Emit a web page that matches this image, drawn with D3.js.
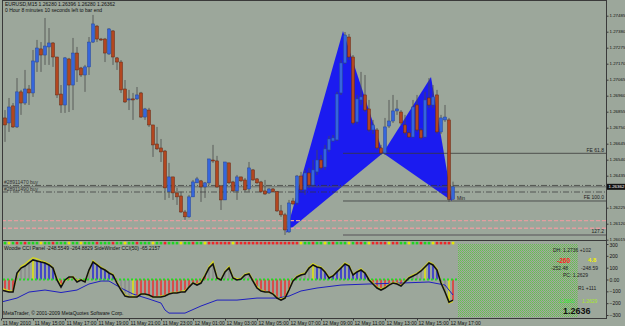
<!DOCTYPE html>
<html>
<head>
<meta charset="utf-8">
<script src="https://cdn.jsdelivr.net/npm/d3@7"></script>
<style>
  body { margin: 0; background: #9ca79b; }
  svg { display: block; }
</style>
</head>
<body>
<div id="chart"></div>
<script>
// EURUSD M15, 11 May 13:00 .. 12 May 17:15 (one value per bar)
const opens = [
  1.26788,1.26814,1.26781,1.26893,1.26755,1.26985,1.26912,1.27004,1.26978,1.27181,
  1.27267,1.27227,1.27280,1.27306,1.27214,1.26971,1.26899,1.27201,1.27030,1.27240,
  1.27142,1.27096,1.27149,1.27312,1.27417,1.27332,1.27332,1.27234,1.27385,1.27208,
  1.27181,1.27004,1.26932,1.26939,1.26939,1.26978,1.26820,1.26866,1.26768,1.26643,
  1.26617,1.26597,1.26330,1.26427,1.26322,1.26302,1.26197,1.26165,1.26296,1.26388,
  1.26401,1.26361,1.26388,1.26538,1.26532,1.26368,1.26276,1.26519,1.26394,1.26335,
  1.26427,1.26407,1.26348,1.26473,1.26414,1.26394,1.26335,1.26322,1.26348,1.26330,
  1.26204,1.26178,1.26066,1.26269,1.26256,1.26433,1.26342,1.26453,1.26374,1.26460,
  1.26538,1.26492,1.26604,1.26663,1.26670,1.26978,1.27175,1.27345,1.27214,1.26788,
  1.26932,1.26965,1.26873,1.26735,1.26735,1.26617,1.26584,1.26761,1.26794,1.26860,
  1.26853,1.26768,1.26716,1.26689,1.26899,1.26735,1.26689,1.26945,1.26899,1.26965,
  1.26722,1.26801,1.26801,1.26280];
const highs = [
  1.26840,1.26866,1.26945,1.26912,1.27076,1.26998,1.27129,1.27030,1.27260,1.27326,
  1.27312,1.27470,1.27404,1.27312,1.27214,1.27030,1.27214,1.27208,1.27339,1.27280,
  1.27149,1.27162,1.27345,1.27490,1.27424,1.27339,1.27339,1.27404,1.27391,1.27214,
  1.27194,1.27063,1.26998,1.26978,1.27017,1.26985,1.26880,1.26880,1.26768,1.26755,
  1.26676,1.26604,1.26519,1.26427,1.26355,1.26330,1.26210,1.26309,1.26407,1.26427,
  1.26407,1.26394,1.26545,1.26637,1.26565,1.26374,1.26525,1.26519,1.26401,1.26440,
  1.26427,1.26420,1.26525,1.26479,1.26420,1.26401,1.26407,1.26355,1.26355,1.26335,
  1.26243,1.26191,1.26276,1.26289,1.26440,1.26460,1.26473,1.26486,1.26538,1.26604,
  1.26571,1.26637,1.26696,1.26702,1.26985,1.27194,1.27378,1.27365,1.27227,1.26965,
  1.27116,1.27096,1.26932,1.26801,1.26748,1.26637,1.26814,1.26932,1.26965,1.26932,
  1.26866,1.26834,1.26735,1.26932,1.26965,1.26748,1.26985,1.27076,1.27030,1.26998,
  1.26834,1.26899,1.26814,1.26396];
const lows = [
  1.26768,1.26657,1.26722,1.26748,1.26748,1.26834,1.26899,1.26899,1.26952,1.27116,
  1.27116,1.27162,1.27162,1.27149,1.26945,1.26847,1.26847,1.26853,1.26866,1.27050,
  1.27083,1.26985,1.27096,1.27306,1.27312,1.27319,1.27181,1.27227,1.27162,1.27129,
  1.26978,1.26912,1.26866,1.26801,1.26932,1.26814,1.26801,1.26755,1.26558,1.26604,
  1.26525,1.26276,1.26289,1.26276,1.26243,1.26191,1.26145,1.26158,1.26296,1.26388,
  1.26263,1.26289,1.26374,1.26519,1.26355,1.26210,1.26276,1.26381,1.26330,1.26276,
  1.26394,1.26330,1.26330,1.26401,1.26381,1.26322,1.26309,1.26315,1.26322,1.26197,
  1.26165,1.26046,1.26060,1.26243,1.26243,1.26330,1.26309,1.26355,1.26361,1.26440,
  1.26473,1.26473,1.26591,1.26657,1.26663,1.26965,1.27168,1.27194,1.26768,1.26775,
  1.26899,1.26853,1.26722,1.26709,1.26604,1.26571,1.26571,1.26748,1.26781,1.26834,
  1.26768,1.26702,1.26683,1.26683,1.26722,1.26670,1.26683,1.26880,1.26880,1.26709,
  1.26709,1.26788,1.26263,1.26280];
const closes = [
  1.26814,1.26768,1.26886,1.26755,1.26985,1.26912,1.27004,1.26978,1.27188,1.27273,
  1.27227,1.27286,1.27306,1.27214,1.26965,1.26899,1.27208,1.27030,1.27240,1.27129,
  1.27096,1.27149,1.27312,1.27431,1.27332,1.27326,1.27240,1.27398,1.27214,1.27181,
  1.26998,1.26919,1.26939,1.26932,1.26965,1.26820,1.26873,1.26768,1.26637,1.26611,
  1.26591,1.26355,1.26427,1.26322,1.26296,1.26197,1.26165,1.26296,1.26394,1.26414,
  1.26361,1.26388,1.26545,1.26532,1.26361,1.26276,1.26525,1.26388,1.26335,1.26427,
  1.26401,1.26342,1.26486,1.26407,1.26388,1.26330,1.26315,1.26348,1.26330,1.26204,
  1.26178,1.26079,1.26256,1.26250,1.26433,1.26342,1.26453,1.26374,1.26473,1.26538,
  1.26486,1.26611,1.26676,1.26683,1.26971,1.27175,1.27358,1.27214,1.26781,1.26939,
  1.26952,1.26866,1.26735,1.26768,1.26617,1.26584,1.26755,1.26794,1.26860,1.26873,
  1.26781,1.26716,1.26689,1.26886,1.26735,1.26683,1.26932,1.26899,1.26952,1.26722,
  1.26814,1.26820,1.26280,1.26362];

// Woodie CCI panel
const cci14 = [
  -89,-97,-106,-106,55,97,114,140,165,157,
  148,140,123,97,-4,-64,-4,21,21,-21,
  -4,-21,80,148,123,97,80,55,38,-30,
  -89,-140,-148,-148,-148,-123,-123,-131,-148,-148,
  -148,-140,-123,-114,-114,-106,-106,-64,-30,-47,
  -30,30,97,131,13,-4,64,97,13,-4,
  4,38,47,-13,-72,-97,-106,-106,-123,-157,
  -174,-157,-89,-13,21,38,47,97,123,106,
  97,64,13,30,64,97,131,114,38,64,
  80,55,-4,-38,-72,-89,-72,-47,-30,-38,
  -55,-21,13,30,47,72,106,140,123,80,
  -30,-106,-191,-174];
const tcci = [
  -70,-85,-95,-100,30,110,130,160,185,175,
  160,150,130,100,10,-50,-10,15,25,-10,
  0,-15,70,160,130,105,85,60,45,-20,
  -80,-130,-145,-150,-140,-120,-125,-135,-150,-145,
  -140,-135,-120,-110,-110,-100,-95,-60,-25,-40,
  -20,40,110,150,20,0,70,110,20,5,
  10,45,55,-5,-60,-90,-100,-110,-120,-150,
  -165,-150,-80,-5,30,45,55,105,135,115,
  105,70,20,35,70,105,140,120,45,70,
  90,60,5,-30,-65,-80,-65,-40,-25,-30,
  -50,-15,20,40,55,80,115,150,130,90,
  -20,-100,-200,-185];
// CCI(50) read at a few bars: [bar, value]
const cci50 = [[1,-191],[5,-157],[8,-106],[12,-89],[16,-110],[20,-89],[23,-38],[26,-13],
  [28,-13],[31,-72],[34,-123],[38,-165],[41,-199],[42,-258],[43,-284],[47,-284],[51,-224],
  [55,-174],[60,-174],[65,-157],[70,-157],[73,-140],[76,-97],[80,-72],[86,-47],[93,-38],
  [101,-30],[108,-21],[112,-47],[114,-131]];
// histogram colour per bar: R down, B up, N neutral, Y turn
const histCodes = ("RRRR NNNN Y BBBBB N RRRRRRR N BBBBBB NNNN Y RRRRRRRRRRRRRRRRRR NN RR NN RR NNN " +
  "RRRRRRRRRR NNNNN Y BBBBBBBBBBBBB N RRRRRRRRR NNNN Y BBB NN Y R").replace(/ /g, "").split("");
// trend dots above the panel
const stripCodes = ("ggygrgrggg yggrgggygg ygggrgggrg gyggrgggyg grgggyggrg gyrrrrrryr rrrrrrrrrr " +
  "rrrrryggrg gygrgggygr rgyrrrryrr ggyggrggyr rrry").replace(/ /g, "").split("");

// harmonic pattern X A B C D : [bar, price]
const patternBars = [72.25, 86.5, 96.5, 108.5, 113.75];
const patternPrices = [1.26060, 1.27385, 1.26584, 1.27083, 1.26269];
const fiboLevels = [1.26582, 1.26269, 1.26046];
const fiboLabels = ["FE 61.8", "FE 100.0", "127.2"];
const orderPrices = [1.26371, 1.26328];
const orderLabels = ["#28911470 buy", "#28911490 buy"];
const stopPrices = [1.26140, 1.26090];
const bidPrice = 1.26362;

const priceTicks = [1.27485,1.27380,1.27275,1.27170,1.27065,1.26960,1.26855,1.26750,1.26645,
  1.26540,1.26435,1.26225,1.26120,1.26015];
const cciTicks = [300, 200, 100, 0, -100, -200, -300];
const timeBars = [1, 9, 17, 25, 33, 41, 49, 57, 65, 73, 81, 89, 97, 105, 113];
const timeLabels = ["11 May 2010","11 May 15:00","11 May 17:00","11 May 19:00","11 May 21:00",
  "11 May 23:00","12 May 01:00","12 May 03:00","12 May 05:00","12 May 07:00","12 May 09:00",
  "12 May 11:00","12 May 13:00","12 May 15:00","12 May 17:00"];

const W = 625, H = 326, BG = "#9ca79b", FONT = "'Liberation Sans', Arial, sans-serif";
const N = opens.length;

const xb = d3.scaleLinear().domain([1, N]).range([1, 453]);
const yp = d3.scaleLinear().domain([1.26015, 1.27485]).range([239.7, 15.7]);
const yc = d3.scaleLinear().domain([-300, 300]).range([315, 244]);

const svg = d3.select("#chart").append("svg").attr("width", W).attr("height", H)
  .attr("font-family", FONT);
svg.append("rect").attr("width", W).attr("height", H).attr("fill", BG);

const defs = svg.append("defs");
defs.append("clipPath").attr("id", "clipMain").append("rect")
  .attr("x", 2).attr("y", 0).attr("width", 604).attr("height", 240.5);
defs.append("clipPath").attr("id", "clipInd").append("rect")
  .attr("x", 2).attr("y", 241).attr("width", 604).attr("height", 77);
const pat = defs.append("pattern").attr("id", "noise").attr("width", 2).attr("height", 2)
  .attr("patternUnits", "userSpaceOnUse");
pat.append("rect").attr("width", 2).attr("height", 2).attr("fill", "#a4a7a0")
  .attr("shape-rendering", "crispEdges");
pat.append("rect").attr("width", 1).attr("height", 1).attr("fill", "#62c34e")
  .attr("shape-rendering", "crispEdges");
pat.append("rect").attr("x", 1).attr("y", 1).attr("width", 1).attr("height", 1).attr("fill", "#76b866")
  .attr("shape-rendering", "crispEdges");

// ---------- main chart
const main = svg.append("g").attr("clip-path", "url(#clipMain)");

// pattern triangles XAB and BCD
const tri = d3.line();
[[0, 1, 2], [2, 3, 4]].forEach(t => {
  main.append("path")
    .attr("d", tri(t.map(k => [xb(patternBars[k]), yp(patternPrices[k])])) + "Z")
    .attr("fill", "#1b1bf0");
});

// fibo expansion lines
fiboLevels.forEach((p, i) => {
  main.append("line").attr("x1", xb(86.5)).attr("x2", 606)
    .attr("y1", yp(p)).attr("y2", yp(p))
    .attr("stroke", i == 2 ? "#6e6e6e" : "#3a3a3a").attr("stroke-width", i == 2 ? 1.4 : 0.8);
  main.append("text").attr("x", 604).attr("y", yp(p) - 1.5)
    .attr("text-anchor", "end").attr("font-size", 5).attr("fill", "#222")
    .text(fiboLabels[i]);
});

// stop lines
stopPrices.forEach(p => {
  main.append("line").attr("x1", 2).attr("x2", 606).attr("y1", yp(p)).attr("y2", yp(p))
    .attr("stroke", "#e39ea0").attr("stroke-width", 1.3).attr("stroke-dasharray", "4,2");
});

// order lines
orderPrices.forEach((p, i) => {
  main.append("line").attr("x1", 2).attr("x2", 606).attr("y1", yp(p)).attr("y2", yp(p))
    .attr("stroke", "#333").attr("stroke-width", 0.7).attr("stroke-dasharray", "6,2,1,2");
  main.append("text").attr("x", 4).attr("y", yp(p) - 1)
    .attr("font-size", 5).attr("fill", "#333").text(orderLabels[i]);
});
main.append("line").attr("x1", 2).attr("x2", 606).attr("y1", yp(bidPrice)).attr("y2", yp(bidPrice))
  .attr("stroke", "#555").attr("stroke-width", 0.7);

// candles
const bars = d3.range(N).map(i => ({ i: i + 1, o: opens[i], h: highs[i], l: lows[i], c: closes[i] }));
main.append("g").selectAll("line").data(bars).join("line")
  .attr("x1", d => xb(d.i)).attr("x2", d => xb(d.i))
  .attr("y1", d => yp(d.h)).attr("y2", d => yp(d.l))
  .attr("stroke", "#4a4a4a").attr("stroke-width", 0.8);
main.append("g").selectAll("rect").data(bars).join("rect")
  .attr("x", d => xb(d.i) - 1.5).attr("width", 3)
  .attr("y", d => yp(Math.max(d.o, d.c)))
  .attr("height", d => Math.max(1, Math.abs(yp(d.o) - yp(d.c))))
  .attr("fill", d => d.c >= d.o ? "#3566dc" : "#b3461f")
  .attr("stroke", d => d.c >= d.o ? "#24449c" : "#652714").attr("stroke-width", 0.5);

main.append("text").attr("x", xb(N) + 4).attr("y", yp(patternPrices[4]) - 1)
  .attr("font-size", 5).attr("fill", "#222").text("Min");

// header texts
svg.append("text").attr("x", 5).attr("y", 6).attr("font-size", 5).attr("fill", "#111")
  .text("EURUSD,M15  1.26280 1.26396 1.26280 1.26362");
svg.append("text").attr("x", 5).attr("y", 12).attr("font-size", 5).attr("fill", "#111")
  .text("0 Hour 8 minutes 10 seconds left to bar end");

// ---------- indicator panel
const ind = svg.append("g").attr("clip-path", "url(#clipInd)");
const stripCol = { g: "#1fd61f", r: "#ef2626", y: "#e6e600" };
ind.append("g").selectAll("rect").data(stripCodes).join("rect")
  .attr("x", (d, i) => xb(i + 1) - 1.3).attr("y", 241.8).attr("width", 2.6).attr("height", 2.6)
  .attr("fill", d => stripCol[d]);

const histCol = { R: "#f02828", B: "#2020d8", N: "#8a8a8a", Y: "#e8e800" };
ind.append("g").selectAll("line").data(cci14).join("line")
  .attr("x1", (d, i) => xb(i + 1)).attr("x2", (d, i) => xb(i + 1))
  .attr("y1", yc(0)).attr("y2", d => yc(d))
  .attr("stroke", (d, i) => histCol[histCodes[i]]).attr("stroke-width", 1.4);

ind.append("line").attr("x1", 3).attr("x2", 457).attr("y1", yc(0)).attr("y2", yc(0))
  .attr("stroke", "#22dd22").attr("stroke-width", 2).attr("stroke-dasharray", "2,2");

ind.append("path").datum(cci50)
  .attr("d", d3.line().x(d => xb(d[0])).y(d => yc(d[1])))
  .attr("fill", "none").attr("stroke", "#1f1fbf").attr("stroke-width", 1);
ind.append("path").datum(tcci)
  .attr("d", d3.line().x((d, i) => xb(i + 1)).y(d => yc(d)))
  .attr("fill", "none").attr("stroke", "#d8d81c").attr("stroke-width", 1.3);
ind.append("path").datum(cci14)
  .attr("d", d3.line().x((d, i) => xb(i + 1)).y(d => yc(d)))
  .attr("fill", "none").attr("stroke", "#111").attr("stroke-width", 1.6);

// info panel
ind.append("rect").attr("x", 458).attr("y", 244).attr("width", 120).attr("height", 73)
  .attr("fill", "url(#noise)");
const info = [
  { x: 553, y: 252, t: "DH: 1.2736 +102", c: "#222", s: 5, w: "normal" },
  { x: 557, y: 262.5, t: "-260", c: "#ff2020", s: 6.5, w: "bold" },
  { x: 588, y: 261.5, t: "4.8", c: "#f0f000", s: 6, w: "bold" },
  { x: 551, y: 269.5, t: "-252.48", c: "#222", s: 5, w: "normal" },
  { x: 581, y: 269.5, t: "-248.59", c: "#222", s: 5, w: "normal" },
  { x: 563, y: 276.5, t: "PC: 1.2629", c: "#222", s: 5, w: "normal" },
  { x: 578, y: 289.5, t: "R1 +111", c: "#222", s: 5, w: "normal" },
  { x: 559, y: 303, t: "1.2660", c: "#2ee82e", s: 5, w: "normal" },
  { x: 582, y: 303, t: "1.2629", c: "#a8e82a", s: 5, w: "normal" },
  { x: 563, y: 314, t: "1.2636", c: "#111", s: 9, w: "bold" }
];
svg.append("g").selectAll("text").data(info).join("text")
  .attr("x", d => d.x).attr("y", d => d.y).attr("font-size", d => d.s)
  .attr("font-weight", d => d.w).attr("fill", d => d.c).text(d => d.t);

svg.append("text").attr("x", 4).attr("y", 249.5).attr("font-size", 5).attr("fill", "#111")
  .text("Woodie CCI Panel -248.5549 -264.8829  SideWinder  CCI(50) -65.2157");
svg.append("text").attr("x", 3).attr("y", 315).attr("font-size", 5).attr("fill", "#111")
  .text("MetaTrader, \u00a9 2001-2009 MetaQuotes Software Corp.");

// ---------- frame and axes
const frame = "#3a3a3a";
svg.append("line").attr("x1", 2.5).attr("x2", 2.5).attr("y1", 0).attr("y2", 318).attr("stroke", frame);
svg.append("line").attr("x1", 606.5).attr("x2", 606.5).attr("y1", 0).attr("y2", 318).attr("stroke", frame);
svg.append("line").attr("x1", 2).attr("x2", 607).attr("y1", 240.5).attr("y2", 240.5).attr("stroke", frame);
svg.append("line").attr("x1", 2).attr("x2", 607).attr("y1", 318.5).attr("y2", 318.5).attr("stroke", frame);
svg.append("line").attr("x1", 2).attr("x2", 607).attr("y1", 0.5).attr("y2", 0.5).attr("stroke", frame);

const pAxis = svg.append("g").attr("transform", "translate(606.5,0)")
  .call(d3.axisRight(yp).tickValues(priceTicks).tickSize(2).tickPadding(1).tickFormat(d3.format(".5f")));
const cAxis = svg.append("g").attr("transform", "translate(606.5,0)")
  .call(d3.axisRight(yc).tickValues(cciTicks).tickSize(2).tickPadding(1)
    .tickFormat(d => d === 0 ? "0.00" : d3.format("d")(d)));
const tAxis = svg.append("g").attr("transform", "translate(0,318.5)")
  .call(d3.axisBottom(xb).tickValues(timeBars).tickSize(2).tickPadding(1)
    .tickFormat((d, i) => timeLabels[i]));
[pAxis, cAxis, tAxis].forEach(a => {
  a.select(".domain").remove();
  a.attr("font-family", FONT).attr("font-size", 5);
  a.selectAll("line").attr("stroke", frame);
  a.selectAll("text").attr("fill", "#111");
});
pAxis.attr("font-size", 4.4);
pAxis.selectAll("text").attr("dy", "0.2em");
cAxis.selectAll("text").attr("dy", d => d === 300 ? "0.55em" : "0.32em");
tAxis.selectAll("text").attr("text-anchor", "start").attr("x", 1);

// current price box
svg.append("rect").attr("x", 607).attr("y", yp(bidPrice) - 3).attr("width", 18).attr("height", 6)
  .attr("fill", "#111");
svg.append("text").attr("x", 608.5).attr("y", yp(bidPrice) + 1.6).attr("font-size", 4.4)
  .attr("fill", "#fff").text(d3.format(".5f")(bidPrice));
</script>
</body>
</html>
